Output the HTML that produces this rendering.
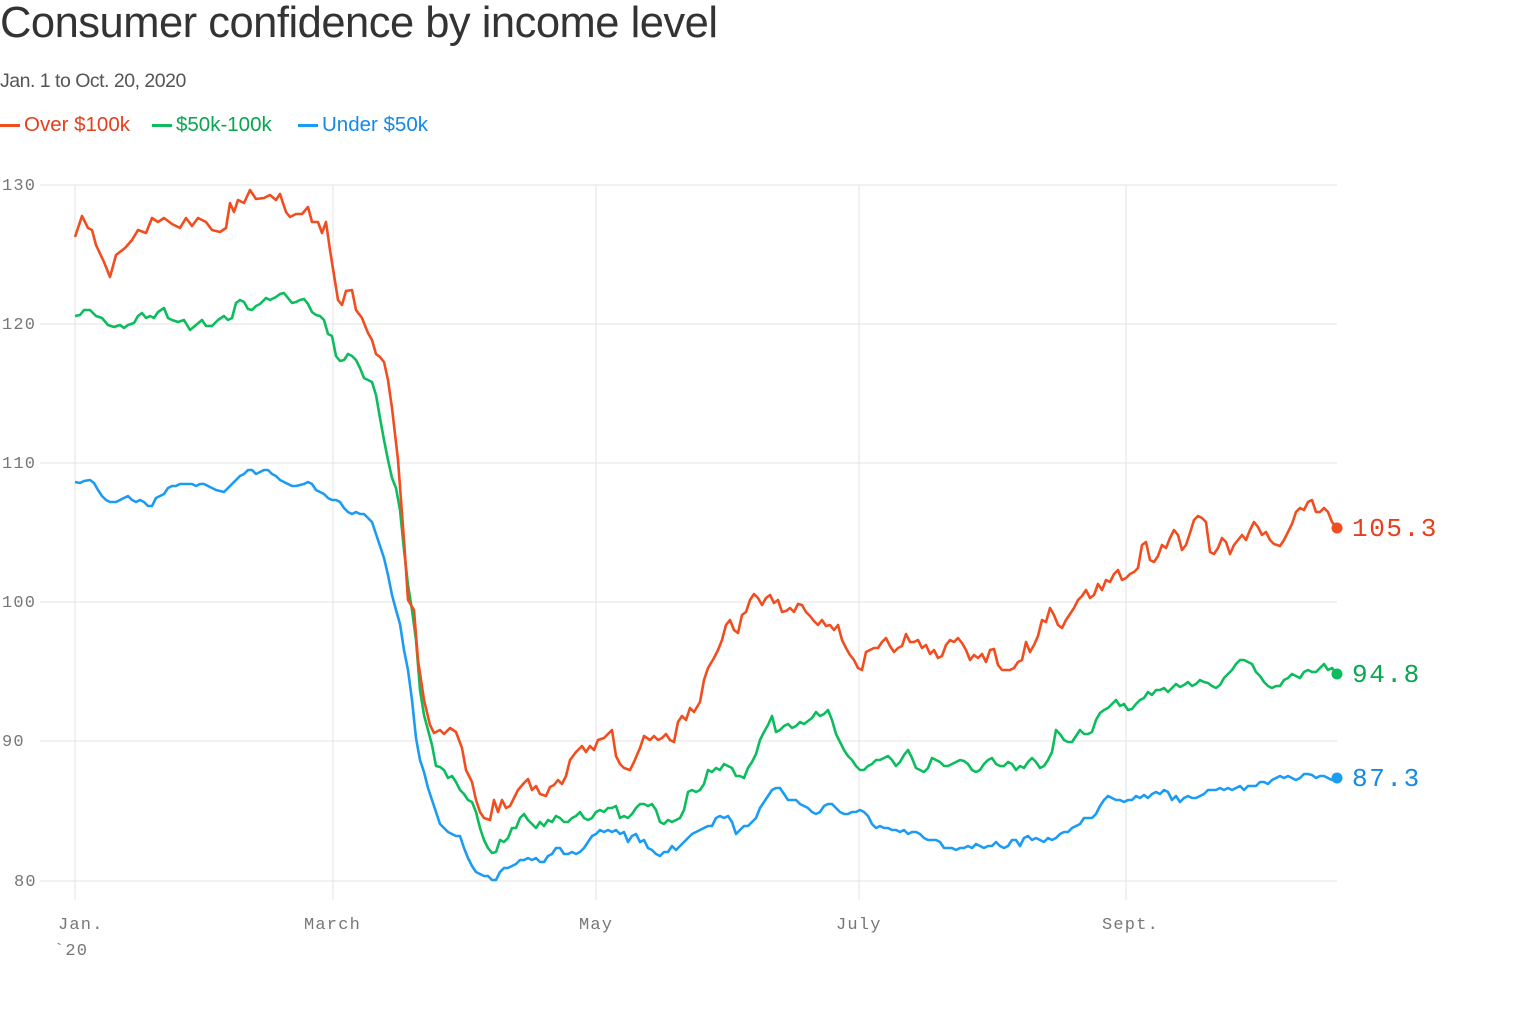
<!DOCTYPE html>
<html><head><meta charset="utf-8"><style>
body{margin:0;background:#fff;width:1532px;height:1016px;overflow:hidden;font-family:"Liberation Sans",sans-serif;}
.t{position:absolute;left:0;top:-1px;font-size:43.5px;color:#333;letter-spacing:-0.5px;}
.s{position:absolute;left:0;top:70px;font-size:19.5px;color:#555;letter-spacing:-0.5px;}
.lg{position:absolute;top:113px;font-size:20.5px;}
.lg i{display:inline-block;width:20px;height:3px;vertical-align:middle;margin-right:4px;}
</style></head><body>
<div class="t">Consumer confidence by income level</div>
<div class="s">Jan. 1 to Oct. 20, 2020</div>
<div class="lg" style="left:0;color:#e63e1c"><i style="background:#f24d1f"></i>Over $100k</div>
<div class="lg" style="left:152px;color:#07a64f"><i style="background:#0bbd5c"></i>$50k-100k</div>
<div class="lg" style="left:298px;color:#1389e8"><i style="background:#1b9cf4"></i>Under $50k</div>
<svg width="1532" height="1016" style="position:absolute;left:0;top:0" font-family="Liberation Mono,monospace">
<g stroke="#e3e3e3" stroke-width="1">
<line x1="40" y1="185" x2="1337" y2="185"/><line x1="40" y1="324" x2="1337" y2="324"/><line x1="40" y1="463" x2="1337" y2="463"/><line x1="40" y1="602" x2="1337" y2="602"/><line x1="40" y1="741" x2="1337" y2="741"/><line x1="40" y1="881" x2="1337" y2="881"/>
<line x1="75" y1="185" x2="75" y2="900"/><line x1="333" y1="185" x2="333" y2="900"/><line x1="596" y1="185" x2="596" y2="900"/><line x1="859" y1="185" x2="859" y2="900"/><line x1="1126" y1="185" x2="1126" y2="900"/>
</g>
<g fill="#777" font-size="17" letter-spacing="1.2">
<text x="2" y="190">130</text><text x="2" y="329">120</text><text x="2" y="468">110</text><text x="2" y="607">100</text><text x="2" y="746">90</text><text x="14" y="886">80</text>
<text x="58" y="929">Jan.</text><text x="54" y="955">`20</text><text x="304" y="929">March</text><text x="579" y="929">May</text><text x="836" y="929">July</text><text x="1102" y="929">Sept.</text>
</g>
<g fill="none" stroke-width="2.6" stroke-linejoin="round">
<polyline stroke="#1b9cf4" points="75,482 80,483 84,481 90,480 94,483 98,490 102,496 106,500 110,502 116,502 120,500 124,498 128,496 132,500 136,502 140,500 144,502 148,506 152,506 156,498 160,496 164,494 168,488 172,486 176,486 180,484 184,484 188,484 192,484 196,486 200,484 204,484 208,486 212,488 216,490 220,491 224,492 228,488 232,484 236,480 240,476 244,474 248,470 252,470 256,474 260,472 264,470 268,470 272,474 276,476 280,480 284,482 288,484 292,486 296,486 300,485 304,484 308,482 312,484 316,490 320,492 324,494 328,498 332,500 336,500 340,502 344,508 348,512 352,514 356,512 360,514 364,514 368,518 372,522 376,534 380,546 384,558 388,575 392,595 396,610 400,624 404,650 408,670 412,700 416,738 420,760 424,772 428,788 432,800 436,812 440,824 444,828 448,832 452,834 456,836 460,836 464,848 468,858 472,866 476,872 480,874 484,876 488,876 492,880 496,880 500,872 504,868 508,868 512,866 516,864 520,860 524,860 528,858 532,860 536,858 540,862 544,862 548,856 552,854 556,848 560,848 564,854 568,854 572,852 576,854 580,852 584,848 588,842 592,836 596,834 600,830 604,832 608,830 612,832 616,830 620,834 624,832 628,842 632,836 636,834 640,842 644,840 648,848 652,850 656,854 660,856 664,852 668,852 672,846 676,850 680,846 684,842 688,838 692,834 696,832 700,830 704,828 708,826 712,826 716,818 720,816 724,818 728,816 732,822 736,834 740,830 744,826 748,826 752,822 756,818 760,808 764,802 768,796 772,790 776,788 780,788 784,794 788,800 792,800 796,800 800,804 804,806 808,808 812,812 816,814 820,812 824,806 828,804 832,804 836,808 840,812 844,814 848,814 852,812 856,812 860,810 864,812 868,816 872,824 876,828 880,826 884,828 888,828 892,830 896,830 900,832 904,830 908,834 912,832 916,832 920,834 924,838 928,840 932,840 936,840 940,842 944,848 948,848 952,848 956,850 960,848 964,848 968,846 972,848 976,844 980,846 984,848 988,846 992,846 996,842 1000,846 1004,848 1008,846 1012,840 1016,840 1020,846 1024,838 1028,836 1032,840 1036,838 1040,840 1044,842 1048,838 1052,840 1056,838 1060,834 1064,832 1068,832 1072,828 1076,826 1080,824 1084,818 1088,818 1092,818 1096,814 1100,806 1104,800 1108,796 1112,798 1116,800 1120,800 1124,802 1128,800 1132,800 1136,796 1140,798 1144,795 1148,798 1152,794 1156,792 1160,794 1164,790 1168,792 1172,800 1176,796 1180,802 1184,798 1188,796 1192,798 1196,798 1200,796 1204,794 1208,790 1212,790 1216,790 1220,788 1224,790 1228,788 1232,790 1236,788 1240,786 1244,790 1248,786 1252,786 1256,786 1260,782 1264,782 1268,784 1272,780 1276,778 1280,776 1284,778 1288,776 1292,778 1296,780 1300,778 1304,774 1308,774 1312,775 1316,778 1320,776 1324,776 1328,778 1332,780 1337,778"/>
<polyline stroke="#0bbd5c" points="75,316 80,315 84,310 90,310 96,316 102,318 108,325 114,327 120,325 124,328 128,325 134,323 138,316 142,313 146,318 150,316 154,318 158,312 164,308 168,318 172,320 178,322 184,320 190,330 196,325 202,320 206,326 212,326 218,320 224,316 228,320 232,318 236,303 240,300 244,302 248,309 252,310 256,306 260,304 266,298 270,300 276,297 280,294 284,293 288,298 292,303 296,302 300,300 304,299 308,304 312,312 316,315 320,316 324,320 328,334 332,336 336,356 340,361 344,360 348,354 352,356 356,360 360,368 364,378 368,380 372,382 376,395 380,418 384,440 388,460 392,478 396,488 400,510 404,550 408,585 412,610 416,640 420,690 424,715 428,730 432,745 436,766 440,767 444,770 448,778 452,776 456,782 460,790 464,794 468,800 472,802 476,812 480,828 484,840 488,848 492,853 496,852 500,840 504,842 508,838 512,828 516,828 520,818 524,814 528,820 532,824 536,828 540,822 544,826 548,820 552,822 556,816 560,818 564,822 568,822 572,818 576,816 580,812 584,818 588,820 592,818 596,812 600,810 604,812 608,808 612,808 616,806 620,818 624,816 628,818 632,814 636,808 640,804 644,804 648,806 652,804 656,810 660,822 664,824 668,820 672,822 676,820 680,818 684,810 688,792 692,790 696,792 700,790 704,784 708,770 712,772 716,768 720,770 724,764 728,766 732,768 736,776 740,776 744,778 748,768 752,762 756,754 760,740 764,732 768,725 772,716 776,732 780,730 784,726 788,724 792,728 796,726 800,722 804,724 808,721 812,718 816,712 820,716 824,714 828,710 832,720 836,734 840,742 844,750 848,756 852,760 856,766 860,770 864,770 868,766 872,764 876,760 880,760 884,758 888,756 892,760 896,766 900,762 904,755 908,750 912,758 916,768 920,770 924,772 928,768 932,758 936,760 940,762 944,766 948,766 952,764 956,762 960,760 964,761 968,764 972,770 976,772 980,770 984,764 988,760 992,758 996,764 1000,766 1004,766 1008,762 1012,764 1016,770 1020,766 1024,768 1028,762 1032,758 1036,762 1040,768 1044,766 1048,760 1052,752 1056,730 1060,734 1064,740 1068,742 1072,742 1076,736 1080,730 1084,734 1088,734 1092,732 1096,720 1100,713 1104,710 1108,708 1112,704 1116,700 1120,706 1124,704 1128,710 1132,709 1136,704 1140,700 1144,698 1148,692 1152,695 1156,690 1160,690 1164,688 1168,692 1172,688 1176,684 1180,687 1184,685 1188,682 1192,686 1196,684 1200,680 1204,682 1208,683 1212,686 1216,688 1220,685 1224,678 1228,674 1232,670 1236,664 1240,660 1244,660 1248,662 1252,664 1256,672 1260,676 1264,682 1268,686 1272,688 1276,686 1280,686 1284,680 1288,678 1292,674 1296,676 1300,678 1304,672 1308,670 1312,672 1316,672 1320,668 1324,664 1328,670 1332,668 1337,674"/>
<polyline stroke="#f24d1f" points="75,237 82,216 88,228 92,230 96,245 104,262 110,277 116,255 125,248 132,240 138,230 146,233 152,218 158,222 164,218 172,224 180,228 186,218 192,226 198,218 206,222 212,230 220,232 226,228 230,203 234,212 238,200 244,203 250,190 256,199 264,198 270,195 276,200 280,194 286,212 290,217 296,214 302,214 308,207 312,222 318,222 322,233 326,222 330,250 334,275 338,300 342,305 346,291 352,290 356,310 362,318 368,333 372,340 376,354 380,357 384,362 388,380 392,408 398,460 404,540 408,600 414,610 418,660 424,700 430,725 434,733 440,730 444,734 450,728 456,732 462,748 466,770 472,782 476,800 480,812 484,818 490,820 494,800 498,812 502,800 506,808 510,806 514,798 518,790 524,783 528,779 532,790 536,786 540,794 546,796 550,787 554,785 558,780 562,784 566,776 570,760 576,752 582,746 586,752 590,746 594,750 598,740 604,738 608,734 612,730 616,756 620,764 624,768 630,770 634,762 640,748 644,736 650,740 654,736 658,740 662,738 666,734 670,740 674,742 678,722 682,716 686,720 690,708 694,712 700,702 704,680 708,668 714,658 718,650 722,640 726,625 730,620 734,630 738,633 742,615 746,612 750,600 754,594 758,598 762,605 766,598 770,595 774,603 778,600 782,612 786,611 790,608 794,612 798,604 802,605 806,612 810,616 814,621 818,625 822,620 826,626 830,625 834,630 838,625 842,640 846,648 850,655 854,660 858,668 862,670 866,652 870,650 874,648 878,648 882,642 886,638 890,646 894,652 898,648 902,646 906,634 910,642 914,642 918,640 922,648 926,645 930,654 934,650 938,658 942,656 946,645 950,640 954,642 958,638 962,643 966,650 970,660 974,655 978,658 982,654 986,662 990,650 994,649 998,665 1002,670 1006,670 1010,670 1014,668 1018,662 1022,660 1026,642 1030,652 1034,645 1038,636 1042,620 1046,622 1050,608 1054,615 1058,625 1062,628 1066,620 1070,614 1074,608 1078,600 1082,596 1086,590 1090,598 1094,595 1098,584 1102,590 1106,580 1110,582 1114,574 1118,570 1122,580 1126,578 1130,574 1134,572 1138,568 1142,545 1146,542 1150,560 1154,562 1158,556 1162,545 1166,548 1170,538 1174,530 1178,535 1182,550 1186,545 1190,533 1194,520 1198,516 1202,518 1206,522 1210,552 1214,554 1218,548 1222,538 1226,542 1230,554 1234,545 1238,540 1242,535 1246,540 1250,530 1254,522 1258,527 1262,535 1266,532 1270,540 1274,544 1280,546 1284,540 1288,532 1292,524 1296,512 1300,508 1304,510 1308,502 1312,500 1316,512 1320,512 1324,508 1328,512 1332,522 1337,528"/>
</g>
<circle cx="1337" cy="528" r="5.5" fill="#f24d1f"/><circle cx="1337" cy="674" r="5.5" fill="#0bbd5c"/><circle cx="1337" cy="778" r="5.5" fill="#1b9cf4"/>
<g font-size="26" letter-spacing="1.6">
<text x="1352" y="536" fill="#e63e1c">105.3</text>
<text x="1352" y="682" fill="#07a64f">94.8</text>
<text x="1352" y="786" fill="#1389e8">87.3</text>
</g>
</svg>
</body></html>
